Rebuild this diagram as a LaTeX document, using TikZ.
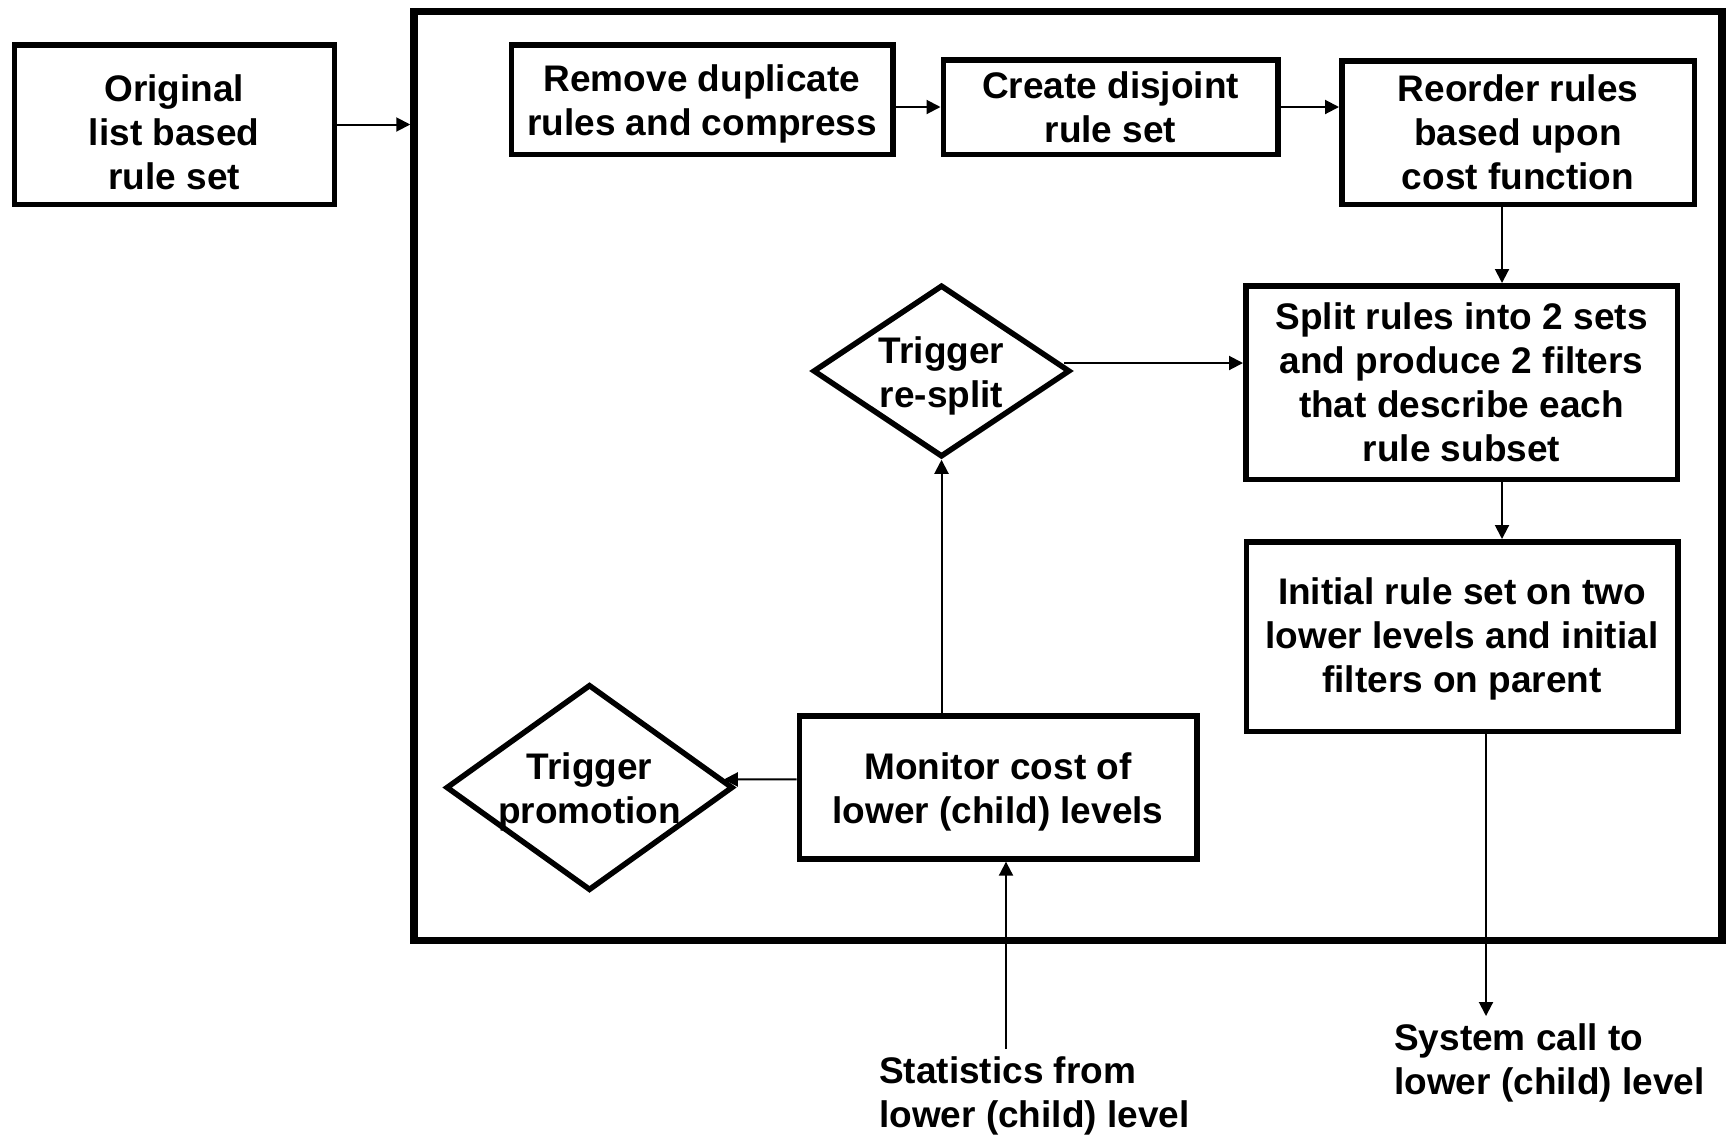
\documentclass[tikz,border=0pt]{standalone}
\usepackage{fontspec}
\setmainfont{Liberation Sans}
\usetikzlibrary{arrows.meta,shapes.geometric}
\begin{document}
\begin{tikzpicture}[x=1pt,y=-1pt,
  every node/.style={font=\fontsize{37}{44}\selectfont\bfseries},
  box/.style={draw,line width=5.5pt,inner sep=0pt},
  outerframe/.style={draw,line width=7.5pt,inner sep=0pt},
  dia/.style={draw,diamond,line width=5.5pt,inner sep=0pt},
  txt/.style={align=center,inner sep=0pt},
  caption/.style={align=left,inner xsep=0pt,inner ysep=7pt,anchor=north west},
  arr/.style={line width=2pt,-{Triangle[length=14pt,width=14pt]}},
]
\useasboundingbox (0,0) rectangle (1726,1136);

% enclosing frame of the level
\node[outerframe,minimum width=1308,minimum height=929] (frame) at (1068,476) {};

% input rule set
\node[box,minimum width=320,minimum height=159.5] (orig) at (174.25,124.5) {};
\node[txt] (origlbl) at ([yshift=-8pt]orig.center) {Original\\list based\\rule set};

% top row of processing steps
\node[box,minimum width=381.5,minimum height=109.5] (rem) at (702,99.5) {};
\node[txt] (remlbl) at ([yshift=-4.5pt]rem.center) {Remove duplicate\\rules and compress};
\node[box,minimum width=334.5,minimum height=94.5] (cre) at (1110.5,107) {};
\node[txt] (crelbl) at (cre.center) {Create disjoint\\rule set};
\node[box,minimum width=352.5,minimum height=143.5] (reo) at (1518,132.5) {};
\node[txt] (reolbl) at (reo.center) {Reorder rules\\based upon\\cost function};

% right column
\node[box,minimum width=431.5,minimum height=193.5] (split) at (1461.5,382.5) {};
\node[txt] (splitlbl) at (split.center) {Split rules into 2 sets\\and produce 2 filters\\that describe each\\rule subset};
\node[box,minimum width=431.5,minimum height=189.5] (init) at (1462,636.5) {};
\node[txt] (initlbl) at ([yshift=-2pt]init.center) {Initial rule set on two\\lower levels and initial\\filters on parent};

% monitoring and decisions
\node[box,minimum width=397.5,minimum height=143] (mon) at (998,787.4) {};
\node[txt] (monlbl) at ([yshift=-4.5pt]mon.center) {Monitor cost of\\lower (child) levels};
\node[dia,minimum width=257,minimum height=172] (resplit) at (941.5,371) {};
\node[txt] (resplitlbl) at ([yshift=-4.5pt]resplit.center) {Trigger\\re-split};
\node[dia,minimum width=287,minimum height=206] (promo) at (589.5,787.5) {};
\node[txt] (promolbl) at ([yshift=-4.5pt]promo.center) {Trigger\\promotion};

% external labels
\node[caption] (stats) at (879,1049) {Statistics from\\lower (child) level};
\node[caption] (sys) at (1394,1016) {System call to\\lower (child) level};

% columns used by vertical connectors
\coordinate (colA) at (1502,0);
\coordinate (colB) at (1006,0);
\coordinate (colC) at (1486,0);

% connectors
\draw[arr] (orig.east) -- (orig.east -| frame.west);
\draw[arr] (cre.west -| rem.east) -- (cre.west);
\draw[arr] (cre.east) -- (cre.east -| reo.west);
\draw[arr] (reo.south -| colA) -- (split.north -| colA);
\draw[arr] (split.south -| colA) -- (init.north -| colA);
\draw[arr] ([xshift=-9pt,yshift=8pt]resplit.east) -- ([yshift=8pt]resplit.east -| split.west);
\draw[arr] (resplit.south |- mon.north) -- (resplit.south);
\draw[arr] ([yshift=8pt]mon.west) -- ([xshift=-12pt,yshift=8pt]promo.east);
\draw[arr] (stats.north -| colB) -- (mon.south -| colB);
\draw[arr] (init.south -| colC) -- (sys.north -| colC);
\end{tikzpicture}
\end{document}
